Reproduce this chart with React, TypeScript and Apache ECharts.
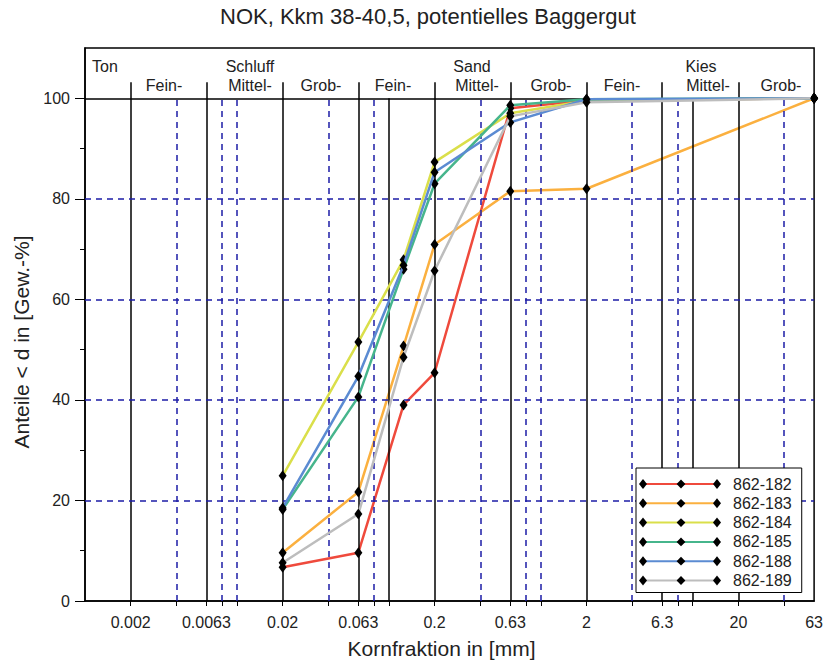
import React, { useEffect, useRef } from "react";
import * as echarts from "echarts";

const TITLE = "NOK, Kkm 38-40,5, potentielles Baggergut";
const X_NAME = "Kornfraktion in [mm]";
const Y_NAME = "Anteile < d in [Gew.-%]";

// grain sizes (mm) of the measured points
const grainSizes = [0.02, 0.063, 0.125, 0.2, 0.63, 2, 63];

const seriesNames = ["862-182", "862-183", "862-184", "862-185", "862-188", "862-189"];
const s182 = [6.7, 9.6, 39.0, 45.4, 98.0, 99.6, 100];
const s183 = [9.6, 21.7, 50.7, 70.9, 81.5, 82.0, 100];
const s184 = [24.9, 51.5, 67.9, 87.3, 97.0, 99.5, 100];
const s185 = [18.2, 40.6, 66.0, 83.0, 98.6, 99.8, 100];
const s188 = [18.5, 44.7, 66.8, 85.3, 95.2, 99.8, 100];
const s189 = [7.6, 17.3, 48.5, 65.7, 96.4, 99.2, 100];
const seriesValues = [s182, s183, s184, s185, s188, s189];
const seriesColors = ["#ef4a3c", "#fbb03f", "#dadf4a", "#46b58c", "#5b8bd2", "#bdbdbd"];

const xTickLabels = [0.002, 0.0063, 0.02, 0.063, 0.2, 0.63, 2, 6.3, 20, 63];
const classBoundaries = [0.002, 0.0063, 0.02, 0.063, 0.2, 0.63, 2, 6.3, 20];
const solidExtra = [0.1, 10];
const dashedX = [0.004, 0.008, 0.01, 0.04, 0.08, 0.4, 0.8, 1, 4, 8, 40];
const dashedY = [20, 40, 60, 80];
const yTickLabels = [0, 20, 40, 60, 80, 100];
const yMinorTicks = [10, 30, 50, 70, 90];

const headerGroups = ["Ton", "Schluff", "Sand", "Kies"];
const headerSubs = ["Fein-", "Mittel-", "Grob-", "Fein-", "Mittel-", "Grob-", "Fein-", "Mittel-", "Grob-"];

const FONT = "'Liberation Sans', Arial, Helvetica, sans-serif";
const TXT = "#222";
const BLUE = "#1c1ca6";

export default function App() {
  const ref = useRef<HTMLDivElement>(null);
  useEffect(() => {
    const chart = echarts.init(ref.current!, null, { renderer: "svg" });

    const X_MIN = 0.001;
    const X_MAX = 63;
    const markData: any[] = [];
    classBoundaries.forEach((v) =>
      markData.push([
        { coord: [v, 0], lineStyle: { color: "#000", width: 1.5, type: "solid" } },
        { coord: [v, 103.2] },
      ])
    );
    solidExtra.forEach((v) =>
      markData.push([
        { coord: [v, 0], lineStyle: { color: "#000", width: 1.5, type: "solid" } },
        { coord: [v, 100] },
      ])
    );
    dashedX.forEach((v) =>
      markData.push([
        { coord: [v, 0], lineStyle: { color: BLUE, width: 1.5, type: [6, 5] } },
        { coord: [v, 100] },
      ])
    );
    dashedY.forEach((v) =>
      markData.push([
        { coord: [X_MIN, v], lineStyle: { color: BLUE, width: 1.5, type: [6, 5] } },
        { coord: [X_MAX, v] },
      ])
    );
    markData.push([
      { coord: [X_MIN, 100], lineStyle: { color: "#000", width: 1.5, type: "solid" } },
      { coord: [X_MAX, 100] },
    ]);

    const headerGraphics: any[] = [];
    const groupPos = [[105, 66], [250, 66], [472, 66], [701, 66]];
    headerGroups.forEach((t, i) =>
      headerGraphics.push({
        type: "text",
        x: groupPos[i][0],
        y: groupPos[i][1],
        silent: true,
        style: { text: t, font: `16px ${FONT}`, fill: TXT, align: "center", verticalAlign: "middle" },
      })
    );
    const subPos = [164, 250, 321, 393, 477, 551, 622, 708, 781];
    headerSubs.forEach((t, i) =>
      headerGraphics.push({
        type: "text",
        x: subPos[i],
        y: 85,
        silent: true,
        style: { text: t, font: `16px ${FONT}`, fill: TXT, align: "center", verticalAlign: "middle" },
      })
    );
    // end diamonds of legend sample lines
    for (let i = 0; i < seriesNames.length; i++) {
      const cy = 484 + i * 19.3;
      [643, 717].forEach((cx) =>
        headerGraphics.push({
          type: "polygon",
          silent: true,
          z: 100,
          shape: { points: [[cx, cy - 5], [cx + 4, cy], [cx, cy + 5], [cx - 4, cy]] },
          style: { fill: "#000" },
        })
      );
    }

    const option: any = {
      animation: false,
      backgroundColor: "#fff",
      textStyle: { fontFamily: FONT },
      title: {
        text: TITLE,
        left: 220,
        top: 5,
        padding: 0,
        textStyle: { fontSize: 22, fontWeight: "normal", color: TXT, fontFamily: FONT },
      },
      grid: {
        left: 85,
        right: 9,
        top: 48,
        bottom: 63,
        show: true,
        borderColor: "#000",
        borderWidth: 1.5,
        backgroundColor: "transparent",
      },
      legend: {
        data: seriesNames,
        orient: "vertical",
        left: 636,
        top: 468,
        padding: [8, 10, 4, 7],
        itemGap: 3.3,
        itemWidth: 74,
        itemHeight: 11,
        selectedMode: false,
        backgroundColor: "#fff",
        borderColor: "#000",
        borderWidth: 1,
        textStyle: { fontSize: 16, lineHeight: 16, color: TXT, fontFamily: FONT, padding: [0, 0, 0, 10] },
        z: 50,
      },
      xAxis: {
        type: "log",
        logBase: 10,
        min: X_MIN,
        max: X_MAX,
        name: X_NAME,
        nameLocation: "middle",
        nameGap: 37,
        nameTextStyle: { fontSize: 21, color: TXT, fontFamily: FONT, padding: [0, 16, 0, 0] },
        axisLine: { lineStyle: { color: "#000", width: 1.5 } },
        axisTick: {
          show: true,
          length: 5,
          customValues: [...classBoundaries, ...solidExtra, ...dashedX],
          lineStyle: { color: "#000" },
        },
        axisLabel: {
          customValues: xTickLabels,
          formatter: (v: number) => String(v),
          fontSize: 16,
          color: TXT,
          margin: 13,
          fontFamily: FONT,
        },
        splitLine: { show: false },
        minorSplitLine: { show: false },
      },
      yAxis: [
        {
          type: "value",
          min: 0,
          max: 110,
          interval: 10,
          name: Y_NAME,
          nameLocation: "middle",
          nameGap: 52,
          nameRotate: 90,
          nameTextStyle: { fontSize: 21, color: TXT, fontFamily: FONT, padding: [0, 35, 0, 0] },
          axisLine: { show: true, lineStyle: { color: "#000", width: 1.5 } },
          axisTick: { show: true, length: 10, customValues: yTickLabels, lineStyle: { color: "#000" } },
          axisLabel: {
            customValues: yTickLabels,
            fontSize: 16,
            color: TXT,
            margin: 15,
            fontFamily: FONT,
          },
          splitLine: { show: false },
        },
        {
          type: "value",
          min: 0,
          max: 110,
          interval: 10,
          position: "left",
          axisLine: { show: false },
          axisTick: { show: true, length: 5, customValues: yMinorTicks, lineStyle: { color: "#000" } },
          axisLabel: { show: false },
          splitLine: { show: false },
        },
      ],
      graphic: headerGraphics,
      series: [
        {
          type: "line",
          name: "grid",
          data: [],
          z: 1,
          silent: true,
          markLine: {
            silent: true,
            symbol: ["none", "none"],
            label: { show: false },
            animation: false,
            data: markData,
          },
        },
        ...seriesNames.map((name, i) => ({
          type: "line",
          name,
          z: 3 + i,
          data: grainSizes.map((g, j) => [g, seriesValues[i][j]]),
          symbol: "diamond",
          symbolSize: [8, 11],
          showAllSymbol: true,
          itemStyle: { color: "#000" },
          lineStyle: { color: seriesColors[i], width: 2.5 },
          clip: false,
        })),
      ],
    };
    chart.setOption(option);
    return () => chart.dispose();
  }, []);
  return <div ref={ref} style={{ position: "absolute", left: 0, top: 0, width: 826, height: 664 }} />;
}
